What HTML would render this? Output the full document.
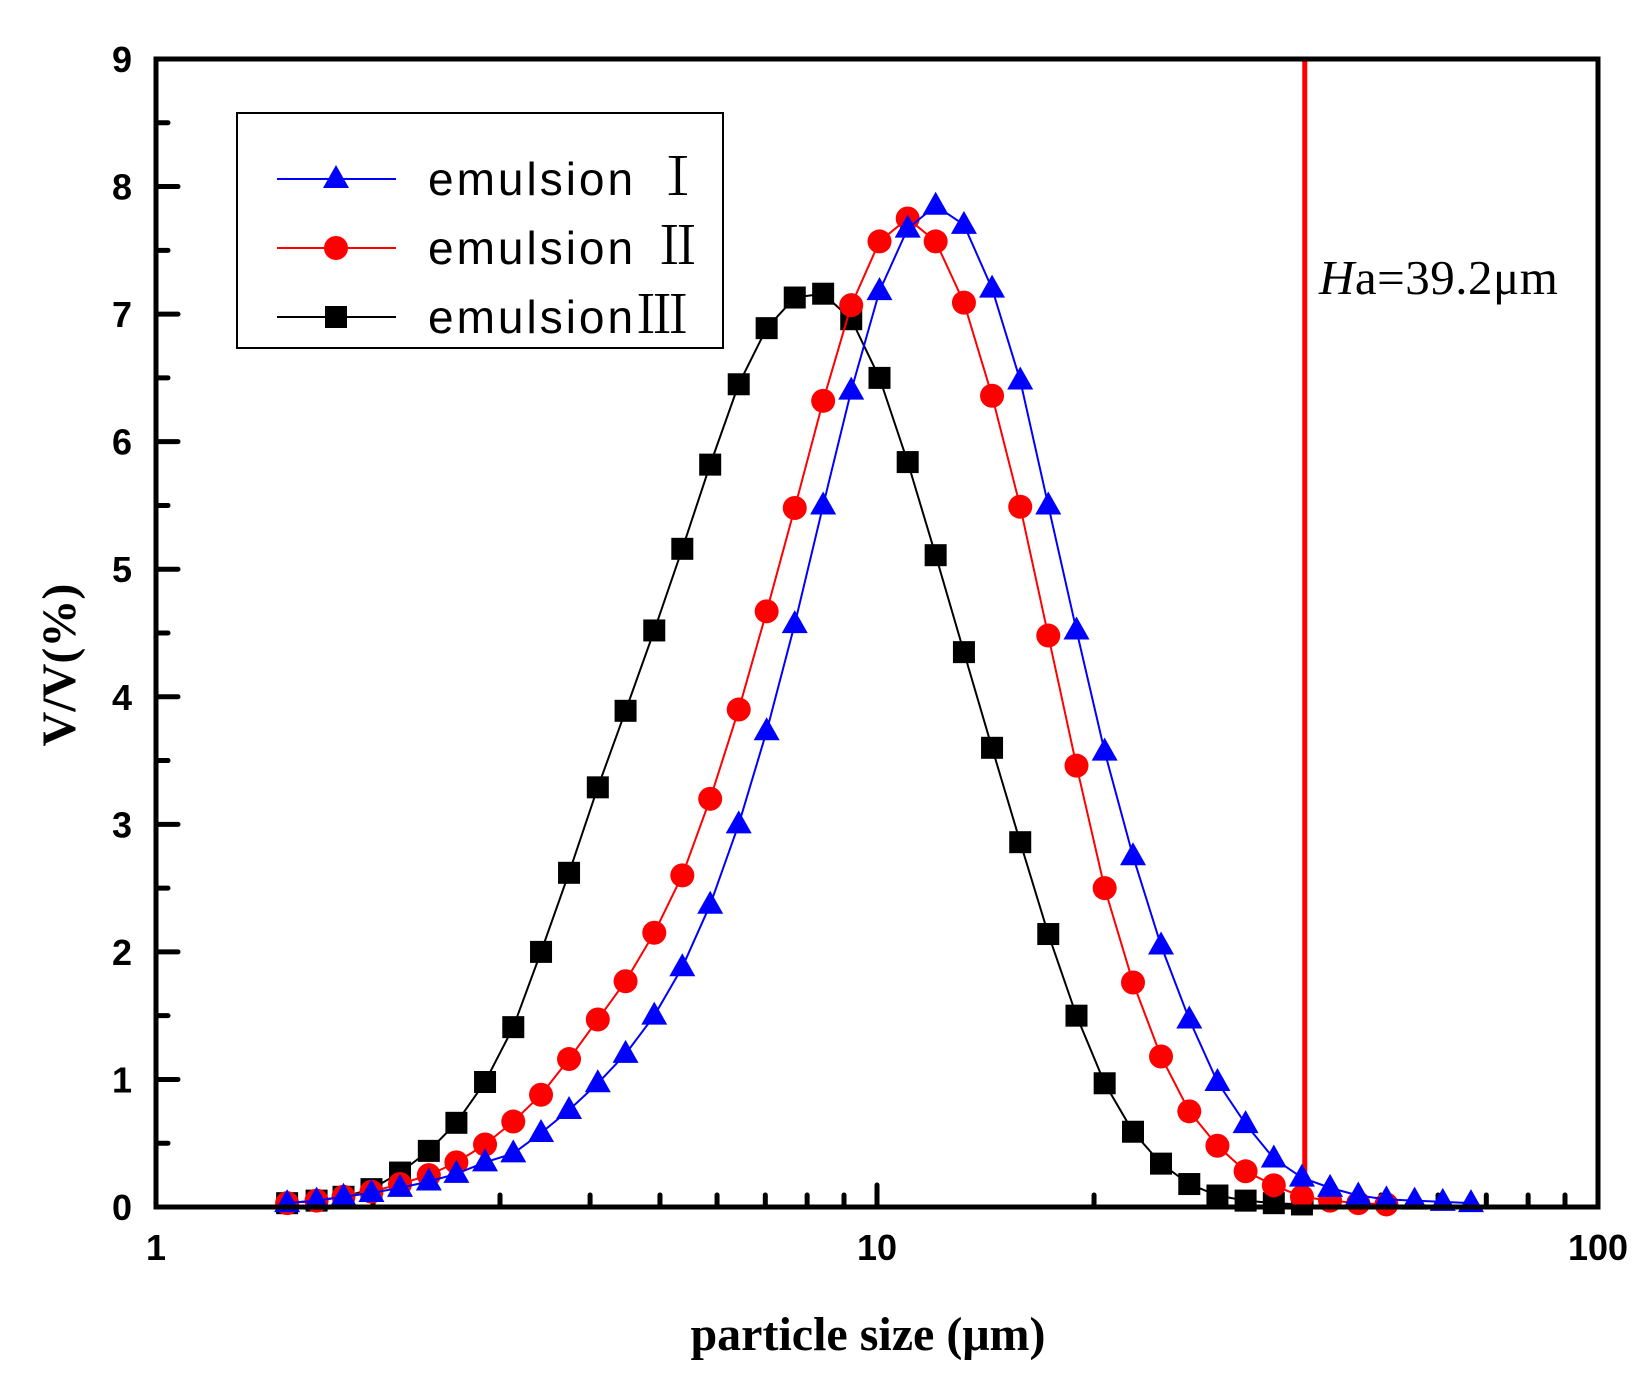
<!DOCTYPE html>
<html><head><meta charset="utf-8"><style>
html,body{margin:0;padding:0;background:#fff;}
svg{display:block;}
</style></head><body>
<svg id="chart" width="1650" height="1397" viewBox="0 0 1650 1397" xmlns="http://www.w3.org/2000/svg"></svg>
<script>
const sizes = [1.52,1.67,1.82,1.99,2.18,2.39,2.61,2.86,3.13,3.42,3.74,4.10,4.48,4.91,5.37,5.87,6.43,7.03,7.69,8.42,9.21,10.08,11.03,12.06,13.20,14.44,15.80,17.28,18.91,20.69,22.65,24.77,27.11,29.66,32.45,35.51,38.85,42.50,46.51,50.88,55.67,60.91,66.65];
const emulsion1 = [0.03,0.05,0.08,0.11,0.15,0.2,0.26,0.35,0.42,0.58,0.76,0.97,1.2,1.5,1.88,2.37,3.0,3.73,4.57,5.5,6.4,7.18,7.67,7.85,7.7,7.2,6.48,5.5,4.52,3.57,2.75,2.05,1.47,0.98,0.65,0.38,0.23,0.15,0.09,0.06,0.05,0.04,0.03];
const emulsion2 = [0.03,0.05,0.08,0.12,0.18,0.25,0.35,0.49,0.67,0.88,1.16,1.47,1.77,2.15,2.6,3.2,3.9,4.67,5.48,6.32,7.07,7.57,7.75,7.57,7.09,6.36,5.49,4.48,3.46,2.5,1.76,1.18,0.75,0.48,0.28,0.17,0.08,0.05,0.03,0.02];
const emulsion3 = [0.03,0.05,0.08,0.14,0.27,0.44,0.66,0.98,1.41,2.0,2.62,3.29,3.89,4.52,5.16,5.82,6.45,6.89,7.13,7.16,6.96,6.5,5.84,5.11,4.35,3.6,2.86,2.14,1.5,0.97,0.59,0.34,0.18,0.09,0.05,0.03,0.02];
const yTicks = [0,1,2,3,4,5,6,7,8,9];
const xTicks = [1,10,100];
const haValue = 39.2;

const NS = "http://www.w3.org/2000/svg";
const svg = document.getElementById('chart');
const X0=156, X1=1598, Y0=1207, Y1=59;
const xs = v => X0 + (Math.log10(v) - 0) / 2 * (X1 - X0);
const ys = v => Y0 - v / 9 * (Y0 - Y1);
function mk(tag, attrs, parent){
  const e = document.createElementNS(NS, tag);
  for (const k in attrs) e.setAttribute(k, attrs[k]);
  (parent||svg).appendChild(e);
  return e;
}

const ticksG = mk('g', {});


for (let v = 0; v <= 9; v += 0.5) {
  const y = ys(v), len = (v % 1 === 0) ? 22 : 12;
  mk('line', {x1:X0, x2:X0+len, y1:y, y2:y, stroke:'#000', 'stroke-width':5, 'stroke-linecap':'round'}, ticksG);
}
for (let d of [1,10]) for (let m = 1; m <= 9; m++) {
  const v = d*m; const x = xs(v); const len = m===1 ? 22 : 12;
  mk('line', {x1:x, x2:x, y1:Y0, y2:Y0-len, stroke:'#000', 'stroke-width':5, 'stroke-linecap':'round'}, ticksG);
}
yTicks.forEach(v => {
  const t = mk('text', {x:132, y:ys(v)+13, 'text-anchor':'end', 'font-family':'Liberation Sans, sans-serif', 'font-weight':'bold', 'font-size':36}, ticksG);
  t.textContent = v;
  
  
});
xTicks.forEach(v => {
  const t = mk('text', {x:xs(v), y:1260, 'text-anchor':'middle', 'font-family':'Liberation Sans, sans-serif', 'font-weight':'bold', 'font-size':36}, ticksG);
  t.textContent = v;
  
  
});

const hl = mk('line', {x1:xs(haValue), x2:xs(haValue), y1:Y1, y2:Y0, stroke:'#f00', 'stroke-width':5});



function marker(g, type, x, y, color){
  if (type==='tri') mk('polygon', {points:`${x},${y-14} ${x-13},${y+9} ${x+13},${y+9}`, fill:color}, g);
  else if (type==='circ') mk('circle', {cx:x, cy:y, r:12, fill:color}, g);
  else mk('rect', {x:x-11, y:y-11, width:22, height:22, fill:color}, g);
}
function series(vals, color, type, name){
  const g = mk('g', {});
  
  
  const pts = vals.map((v,i) => [xs(sizes[i]), ys(v)]);
  mk('polyline', {points: pts.map(p=>p.join(',')).join(' '), fill:'none', stroke:color, 'stroke-width':2}, g);
  pts.forEach(p => marker(g, type, p[0], p[1], color));
}
series(emulsion3, '#000', 'sq', 'series-emulsion-3');
series(emulsion2, '#f00', 'circ', 'series-emulsion-2');
series(emulsion1, '#00f', 'tri', 'series-emulsion-1');

const fr = mk('rect', {x:X0, y:Y1, width:X1-X0, height:Y0-Y1, fill:'none', stroke:'#000', 'stroke-width':5});



const lg = mk('g', {});


mk('rect', {x:237, y:113, width:486, height:235, fill:'#fff', stroke:'#000', 'stroke-width':2}, lg);
const legItems = [['emulsion ', 'Ⅰ', '#00f', 'tri', 179],['emulsion ', 'Ⅱ', '#f00', 'circ', 248],['emulsion', 'Ⅲ', '#000', 'sq', 317]];
legItems.forEach(it => {
  const e = mk('g', {}, lg);
  
  
  mk('line', {x1:277, x2:396, y1:it[4], y2:it[4], stroke:it[2], 'stroke-width':2}, e);
  marker(e, it[3], 336, it[4], it[2]);
  const t = mk('text', {x:428, y:it[4]+16, 'font-family':'Liberation Sans, sans-serif', 'font-size':46, 'letter-spacing':3}, e);
  t.textContent = it[0];
  const r = mk('tspan', {'font-family':'"Noto Serif CJK SC", "Liberation Serif", serif', 'font-size':52, 'letter-spacing':0}, t);
  r.textContent = it[1];
});

const ha = mk('text', {x:1319, y:294, 'font-family':'Liberation Serif, serif', 'font-size':49, 'letter-spacing':0.5});


const hi = mk('tspan', {'font-style':'italic'}, ha); hi.textContent = 'H';
const hr = mk('tspan', {}, ha); hr.textContent = 'a=39.2μm';

const xt = mk('text', {x:868, y:1350, 'text-anchor':'middle', 'font-family':'Liberation Serif, serif', 'font-weight':'bold', 'font-size':48});
xt.textContent = 'particle size (μm)';


const yt = mk('text', {x:0, y:0, 'text-anchor':'middle', 'font-family':'Liberation Serif, serif', 'font-weight':'bold', 'font-size':48, transform:'translate(75,665) rotate(-90)'});
yt.textContent = 'V/V(%)';


</script>
</body></html>
